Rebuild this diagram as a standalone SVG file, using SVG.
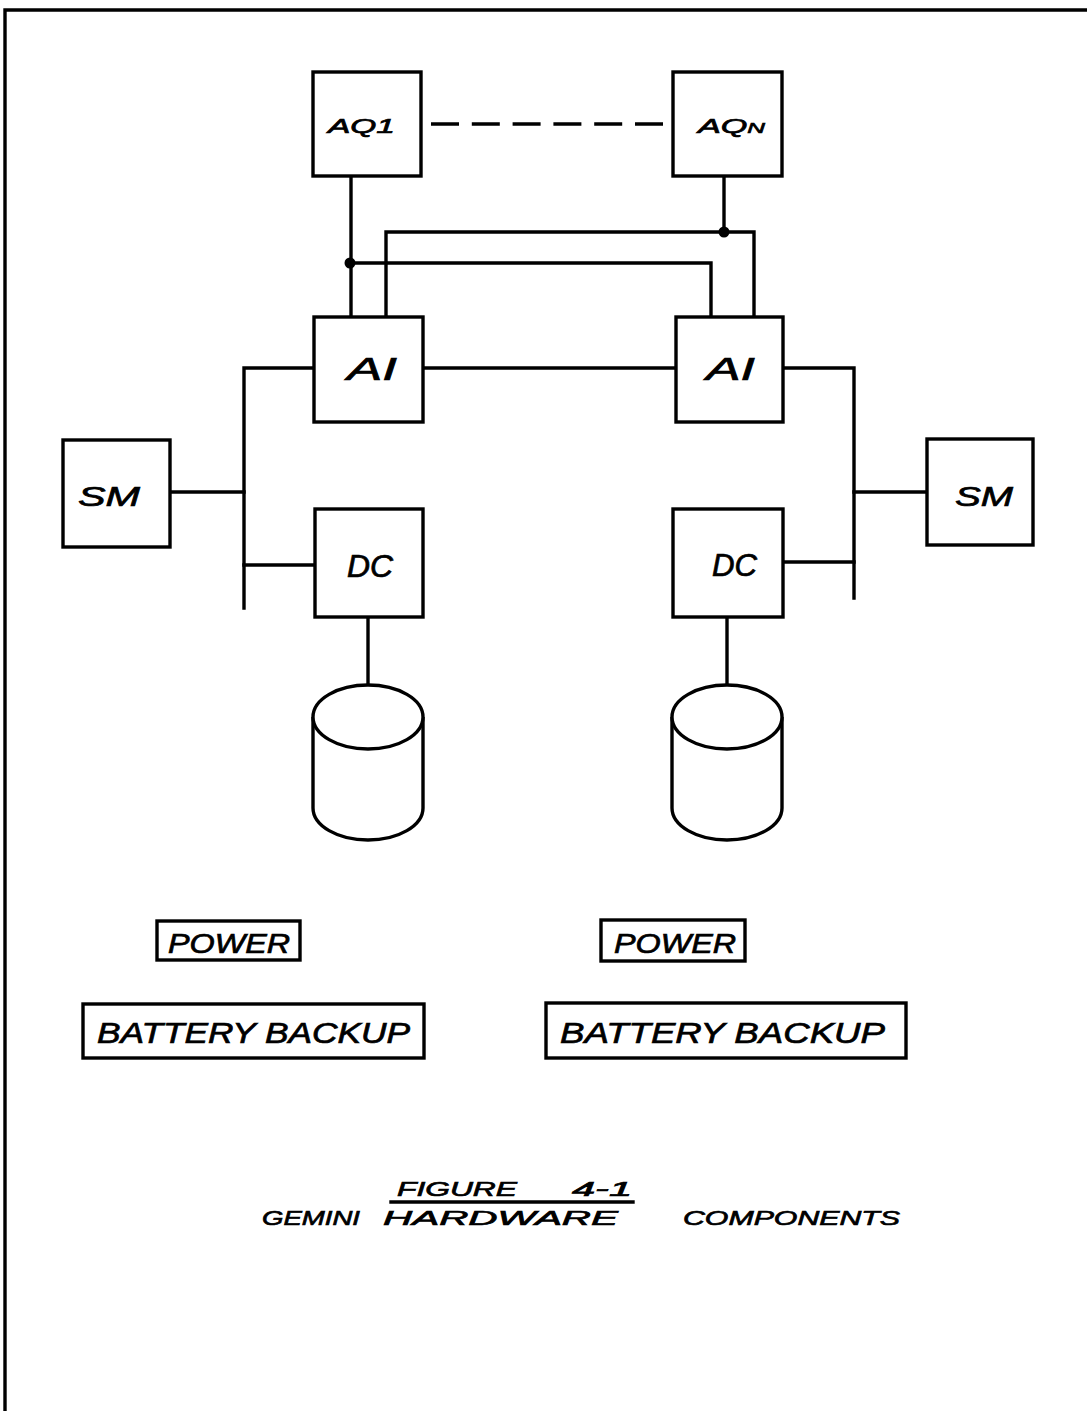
<svg xmlns="http://www.w3.org/2000/svg" width="1087" height="1411" viewBox="0 0 1087 1411">
<style>
.box{fill:#fff;stroke:#000;stroke-width:3.4}
.ln{fill:none;stroke:#000;stroke-width:3.4;stroke-linecap:square;stroke-linejoin:miter}
.dash{fill:none;stroke:#000;stroke-width:3.4;stroke-dasharray:28 12.8}
.cyl{fill:#fff;stroke:#000;stroke-width:3.4}
.t{font-family:"Liberation Sans",Arial,sans-serif;font-style:italic;fill:#000;stroke:#000;stroke-width:0.7}
</style>
<rect x="0" y="0" width="1087" height="1411" fill="#fff"/>
<g id="frame">
<path class="ln" d="M5,1411 V10 H1087" stroke-width="4"/>
</g>
<g id="connectors">
<line class="dash" x1="431" y1="124" x2="663" y2="124"/>
<path class="ln" d="M351,176 V317"/>
<path class="ln" d="M350,263 H711 V317"/>
<path class="ln" d="M724,176 V232"/>
<path class="ln" d="M386,317 V232 H754 V317"/>
<path class="ln" d="M423,368 H676"/>
<path class="ln" d="M314,368 H244 V608"/>
<path class="ln" d="M170,492 H244"/>
<path class="ln" d="M244,565 H315"/>
<path class="ln" d="M783,368 H854 V598"/>
<path class="ln" d="M854,492 H927"/>
<path class="ln" d="M783,562 H854"/>
<path class="ln" d="M368,617 V685"/>
<path class="ln" d="M727,617 V685"/>
<circle cx="350" cy="263" r="5.5" fill="#000"/>
<circle cx="724" cy="232" r="5.5" fill="#000"/>
</g>
<g id="aq1">
<rect class="box" x="313" y="72" width="108" height="104"/>
<text class="t" x="328" y="133" font-size="21" textLength="67" lengthAdjust="spacingAndGlyphs">AQ1</text>
</g>
<g id="aqn">
<rect class="box" x="673" y="72" width="109" height="104"/>
<text class="t" x="698" y="133" font-size="21" textLength="67" lengthAdjust="spacingAndGlyphs">AQ<tspan font-size="15">N</tspan></text>
</g>
<g id="ai-left">
<rect class="box" x="314" y="317" width="109" height="105"/>
<text class="t" x="347" y="380" font-size="32" textLength="50" lengthAdjust="spacingAndGlyphs">AI</text>
</g>
<g id="ai-right">
<rect class="box" x="676" y="317" width="107" height="105"/>
<text class="t" x="706" y="380" font-size="32" textLength="49" lengthAdjust="spacingAndGlyphs">AI</text>
</g>
<g id="sm-left">
<rect class="box" x="63" y="440" width="107" height="107"/>
<text class="t" x="78" y="506" font-size="28" textLength="62" lengthAdjust="spacingAndGlyphs">SM</text>
</g>
<g id="sm-right">
<rect class="box" x="927" y="439" width="106" height="106"/>
<text class="t" x="955" y="506" font-size="28" textLength="58" lengthAdjust="spacingAndGlyphs">SM</text>
</g>
<g id="dc-left">
<rect class="box" x="315" y="509" width="108" height="108"/>
<text class="t" x="347" y="577" font-size="31" textLength="46" lengthAdjust="spacingAndGlyphs">DC</text>
</g>
<g id="dc-right">
<rect class="box" x="673" y="509" width="110" height="108"/>
<text class="t" x="712" y="576" font-size="31" textLength="45" lengthAdjust="spacingAndGlyphs">DC</text>
</g>
<g id="disk-left">
<path class="cyl" d="M313,717 V808 A55,32 0 0 0 423,808 V717"/>
<ellipse class="cyl" cx="368" cy="717" rx="55" ry="32"/>
</g>
<g id="disk-right">
<path class="cyl" d="M672,717 V808 A55,32 0 0 0 782,808 V717"/>
<ellipse class="cyl" cx="727" cy="717" rx="55" ry="32"/>
</g>
<g id="power-left">
<rect class="box" x="157" y="921" width="143" height="39"/>
<text class="t" x="168" y="953" font-size="27" textLength="122" lengthAdjust="spacingAndGlyphs">POWER</text>
</g>
<g id="power-right">
<rect class="box" x="601" y="920" width="144" height="41"/>
<text class="t" x="614" y="953" font-size="27" textLength="122" lengthAdjust="spacingAndGlyphs">POWER</text>
</g>
<g id="battery-left">
<rect class="box" x="83" y="1004" width="341" height="54"/>
<text class="t" x="97" y="1043" font-size="29" textLength="313" lengthAdjust="spacingAndGlyphs">BATTERY  BACKUP</text>
</g>
<g id="battery-right">
<rect class="box" x="546" y="1003" width="360" height="55"/>
<text class="t" x="560" y="1043" font-size="29" textLength="325" lengthAdjust="spacingAndGlyphs">BATTERY  BACKUP</text>
</g>
<g id="caption">
<text class="t" x="397" y="1196" font-size="21" textLength="120" lengthAdjust="spacingAndGlyphs">FIGURE</text>
<text class="t" x="572" y="1196" font-size="21" textLength="60" lengthAdjust="spacingAndGlyphs">4-1</text>
<line class="ln" x1="391" y1="1202" x2="633" y2="1202" stroke-width="2.5"/>
<text class="t" x="262" y="1225" font-size="21" textLength="98" lengthAdjust="spacingAndGlyphs">GEMINI</text>
<text class="t" x="383" y="1225" font-size="21" textLength="235" lengthAdjust="spacingAndGlyphs">HARDWARE</text>
<text class="t" x="683" y="1225" font-size="21" textLength="217" lengthAdjust="spacingAndGlyphs">COMPONENTS</text>
</g>
</svg>
